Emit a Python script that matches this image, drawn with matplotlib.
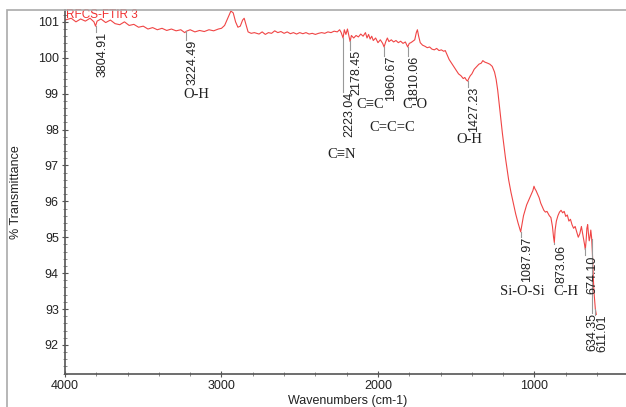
"""FTIR transmittance spectrum with OMNIC-style peak labels."""

import matplotlib

matplotlib.use("Agg")
import matplotlib.pyplot as plt
import numpy as np
from matplotlib.patches import Rectangle
from matplotlib.ticker import MultipleLocator

# spectrum (wavenumber cm-1, %T)
wavenumber = [
    4000, 3960, 3930, 3900, 3870, 3840, 3815, 3805, 3795, 3770, 3740, 3710,
    3680, 3650, 3620, 3590, 3560, 3530, 3500, 3470, 3440, 3410, 3380, 3350,
    3320, 3290, 3260, 3235, 3224, 3200, 3170, 3140, 3110, 3080, 3050, 3020,
    3000, 2980, 2960, 2940, 2925, 2910, 2895, 2880, 2865, 2855, 2845, 2830,
    2810, 2790, 2760, 2740, 2720, 2700, 2680, 2660, 2640, 2620, 2600, 2580,
    2560, 2540, 2520, 2500, 2480, 2460, 2440, 2420, 2400, 2380, 2360, 2340,
    2320, 2300, 2280, 2260, 2245, 2235, 2223, 2215, 2205, 2195, 2185, 2178,
    2170, 2155, 2140, 2125, 2110, 2095, 2080, 2070, 2060, 2050, 2040, 2030,
    2015, 2000, 1985, 1970, 1961, 1950, 1940, 1930, 1915, 1900, 1885, 1870,
    1855, 1840, 1825, 1815, 1810, 1800, 1790, 1780, 1765, 1755, 1748, 1740,
    1730, 1715, 1700, 1685, 1670, 1655, 1640, 1625, 1610, 1595, 1580, 1570,
    1560, 1545, 1530, 1515, 1500, 1485, 1470, 1455, 1445, 1435, 1427, 1420,
    1410, 1400, 1385, 1370, 1355, 1340, 1330, 1318, 1300, 1285, 1270, 1255,
    1245, 1235, 1225, 1215, 1205, 1195, 1185, 1175, 1165, 1150, 1135, 1120,
    1105, 1095, 1088, 1080, 1070, 1060, 1050, 1040, 1030, 1020, 1010, 1003,
    997, 990, 980, 970, 960, 950, 940, 930, 920, 905, 895, 885,
    878, 873, 868, 860, 850, 840, 830, 820, 810, 800, 790, 780,
    770, 760, 750, 740, 730, 720, 710, 700, 690, 680, 675, 670,
    665, 660, 655, 650, 645, 640, 635, 630, 625, 620, 615, 611,
    605,
]
transmittance = [
    101.05, 101.10, 101.00, 101.08, 101.02, 101.10, 101.00, 100.88, 101.02, 101.08, 100.98, 101.05,
    100.95, 100.92, 101.00, 100.90, 100.93, 100.85, 100.88, 100.80, 100.84, 100.78, 100.82, 100.76,
    100.80, 100.75, 100.78, 100.70, 100.74, 100.78, 100.72, 100.76, 100.73, 100.78, 100.75, 100.80,
    100.82, 100.90, 101.10, 101.30, 101.25, 101.00, 100.85, 100.88, 101.05, 101.10, 100.95, 100.72,
    100.68, 100.70, 100.66, 100.72, 100.65, 100.70, 100.68, 100.75, 100.70, 100.73, 100.68, 100.72,
    100.67, 100.70, 100.66, 100.70, 100.67, 100.70, 100.66, 100.68, 100.65, 100.68, 100.70, 100.68,
    100.72, 100.70, 100.74, 100.72, 100.78, 100.70, 100.55, 100.78, 100.65, 100.80, 100.60, 100.45,
    100.62, 100.55, 100.62, 100.58, 100.66, 100.60, 100.70, 100.55, 100.65, 100.52, 100.60, 100.48,
    100.55, 100.42, 100.50, 100.40, 100.30, 100.45, 100.55, 100.45, 100.50, 100.44, 100.48, 100.42,
    100.46, 100.40, 100.44, 100.35, 100.30, 100.40, 100.42, 100.45, 100.50, 100.70, 100.78, 100.60,
    100.42, 100.35, 100.32, 100.28, 100.30, 100.24, 100.22, 100.26, 100.20, 100.22, 100.18, 100.20,
    100.10, 99.95, 99.85, 99.75, 99.65, 99.55, 99.50, 99.42, 99.45, 99.38, 99.35, 99.42,
    99.50, 99.55, 99.68, 99.75, 99.82, 99.85, 99.92, 99.88, 99.85, 99.82, 99.76, 99.60,
    99.40, 99.10, 98.70, 98.30, 97.90, 97.55, 97.20, 96.90, 96.60, 96.25, 95.95, 95.65,
    95.40, 95.25, 95.15, 95.35, 95.60, 95.75, 95.90, 96.00, 96.10, 96.20, 96.30, 96.42,
    96.35, 96.30, 96.20, 96.10, 95.95, 95.85, 95.75, 95.70, 95.72, 95.60, 95.55, 95.30,
    95.00, 94.85, 95.20, 95.45, 95.60, 95.70, 95.75, 95.68, 95.72, 95.58, 95.62, 95.45,
    95.50, 95.35, 95.25, 95.30, 95.15, 95.00, 95.10, 95.30, 95.05, 94.80, 94.65, 94.90,
    95.25, 95.35, 95.10, 94.90, 95.00, 95.20, 95.00, 94.60, 94.00, 93.50, 93.20, 93.00,
    92.85,
]

# peak picks and where their leader lines end
peak_positions = [3804.91, 3224.49, 2223.04, 2178.45, 1960.67, 1810.06,
                  1427.23, 1087.97, 873.06, 674.10, 634.35, 611.01]
peak_line_ends = [100.72, 100.50, 99.05, 100.22, 100.05, 100.05,
                  99.19, 95.00, 94.80, 94.50, 92.90, 92.84]
# horizontal nudge of each number label, in points
peak_text_dx = [0.5, 0.5, 0.5, 0.5, 0.5, 0.5, 0.5, 0.5, 0.5, 0.5, -3.5, 0.5]

# functional group annotations
group_labels = ["O-H", "C≡N", "C≡C", "C=C=C", "C-O", "O-H", "Si-O-Si", "C-H"]
group_x = [3163, 2230, 2051, 1911, 1764, 1419, 1080, 799]
group_y = [98.97, 97.30, 98.69, 98.05, 98.69, 97.71, 93.48, 93.48]

W, H = 626, 407
fig = plt.figure(figsize=(W / 100, H / 100), dpi=100)
ax = fig.add_axes([65 / W, (H - 374) / H, (W - 65) / W, (374 - 10) / H])

ax.plot(wavenumber, transmittance, color="#f04545", linewidth=0.8)

ax.set_xlim(4000, 415)
ax.set_ylim(91.19, 101.33)
ax.xaxis.set_major_locator(MultipleLocator(1000))
ax.xaxis.set_minor_locator(MultipleLocator(200))
ax.yaxis.set_major_locator(MultipleLocator(1))
ax.yaxis.set_minor_locator(MultipleLocator(0.2))

sans = "Liberation Sans"
serif = "Liberation Serif"
ax.tick_params(which="major", direction="inout", length=5, width=0.8,
               color="#555555", labelsize=9, labelcolor="#222222", pad=2)
ax.tick_params(which="minor", direction="inout", length=3, width=0.6, color="#777777")
for lab in ax.get_xticklabels() + ax.get_yticklabels():
    lab.set_fontfamily(sans)

for side in ("top", "right"):
    ax.spines[side].set_visible(False)
for side in ("left", "bottom"):
    ax.spines[side].set_color("#555555")
    ax.spines[side].set_linewidth(1.2)

ax.set_xlabel("Wavenumbers (cm-1)", fontsize=9, family=sans, color="#222222")
ax.set_ylabel("% Transmittance", fontsize=9, family=sans, color="#222222")
ax.xaxis.set_label_coords(0.503, -0.057)
ax.yaxis.set_label_coords(-0.077, 0.5)

ax.text(3995, 101.19, "RFCS-FTIR 3", color="#f03030", fontsize=8.5,
        family=sans, ha="left", va="center")

# leader lines start on the curve
wn_rev = np.array(wavenumber)[::-1]
tr_rev = np.array(transmittance)[::-1]
for pos, y_end, dx in zip(peak_positions, peak_line_ends, peak_text_dx):
    y_start = float(np.interp(pos, wn_rev, tr_rev))
    ax.plot([pos, pos], [y_start, y_end], color="#999999", linewidth=0.8)
    ax.annotate(f"{pos:.2f}", xy=(pos, y_end), xytext=(dx, 0),
                textcoords="offset points", rotation=90, ha="left", va="top",
                fontsize=9, family=sans, color="#222222")

for text, gx, gy in zip(group_labels, group_x, group_y):
    ax.text(gx, gy, text, ha="center", va="center", fontsize=10.5,
            family=[serif, "DejaVu Serif"], color="#222222")

# outer window frame
fig.add_artist(Rectangle((7 / W, -0.1), 1.2, (H - 10) / H + 0.1,
                         transform=fig.transFigure, fill=False,
                         edgecolor="#aaaaaa", linewidth=1.2))

fig.savefig("out.png", dpi=100)
